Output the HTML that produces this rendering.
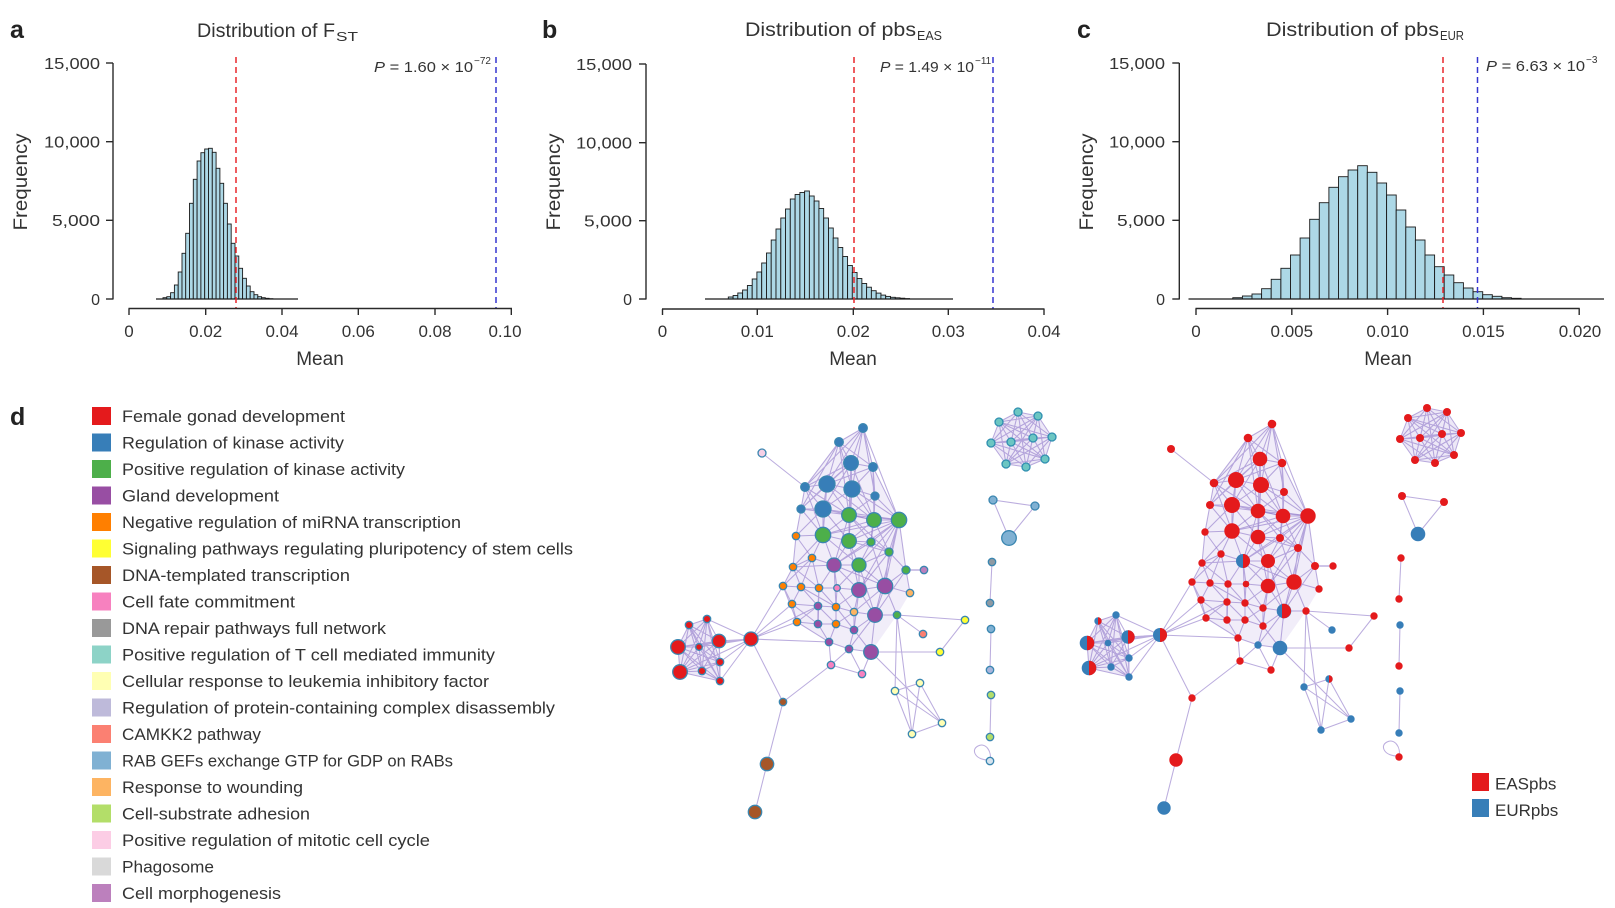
<!DOCTYPE html>
<html><head><meta charset="utf-8"><style>
html,body{margin:0;padding:0;background:#fff;}
svg{display:block;font-family:"Liberation Sans",Arial,sans-serif;}
</style></head><body>
<svg width="1615" height="908" viewBox="0 0 1615 908" xmlns="http://www.w3.org/2000/svg">
<rect width="1615" height="908" fill="#fff"/>

<g fill="#222">
<text x="10" y="38" font-size="25" font-weight="bold">a</text>
<text x="542" y="38" font-size="25" font-weight="bold">b</text>
<text x="1077" y="38" font-size="25" font-weight="bold">c</text>
<text x="10" y="425" font-size="25" font-weight="bold">d</text>
</g>
<g fill="#333">
<text x="197" y="37" font-size="19" textLength="138" lengthAdjust="spacingAndGlyphs">Distribution of F</text>
<text x="336" y="41" font-size="13" textLength="22" lengthAdjust="spacingAndGlyphs">ST</text>
<text x="745" y="36" font-size="19" textLength="171" lengthAdjust="spacingAndGlyphs">Distribution of pbs</text>
<text x="917" y="40" font-size="13" textLength="25" lengthAdjust="spacingAndGlyphs">EAS</text>
<text x="1266" y="36" font-size="19" textLength="173" lengthAdjust="spacingAndGlyphs">Distribution of pbs</text>
<text x="1440" y="40" font-size="13" textLength="24" lengthAdjust="spacingAndGlyphs">EUR</text>
</g>

<!-- histogram a bars -->
<g fill="#add8e6" stroke="#1a1a1a" stroke-width="0.9">
<rect x="163.0" y="297.7" width="3.79" height="1.3"/>
<rect x="166.8" y="296.7" width="3.79" height="2.3"/>
<rect x="170.6" y="292.7" width="3.79" height="6.3"/>
<rect x="174.4" y="285" width="3.79" height="14"/>
<rect x="178.2" y="272" width="3.79" height="27"/>
<rect x="182.0" y="253.3" width="3.79" height="45.7"/>
<rect x="185.7" y="233.3" width="3.79" height="65.7"/>
<rect x="189.5" y="203.3" width="3.79" height="95.7"/>
<rect x="193.3" y="179.3" width="3.79" height="119.7"/>
<rect x="197.1" y="161" width="3.79" height="138"/>
<rect x="200.9" y="152.7" width="3.79" height="146.3"/>
<rect x="204.7" y="149" width="3.79" height="150"/>
<rect x="208.5" y="148.3" width="3.79" height="150.7"/>
<rect x="212.3" y="152.3" width="3.79" height="146.7"/>
<rect x="216.1" y="168.3" width="3.79" height="130.7"/>
<rect x="219.9" y="183.3" width="3.79" height="115.7"/>
<rect x="223.6" y="203.3" width="3.79" height="95.7"/>
<rect x="227.4" y="224" width="3.79" height="75"/>
<rect x="231.2" y="243.3" width="3.79" height="55.7"/>
<rect x="235.0" y="256" width="3.79" height="43"/>
<rect x="238.8" y="268.3" width="3.79" height="30.7"/>
<rect x="242.6" y="278.3" width="3.79" height="20.7"/>
<rect x="246.4" y="286" width="3.79" height="13"/>
<rect x="250.2" y="291.7" width="3.79" height="7.3"/>
<rect x="254.0" y="294.7" width="3.79" height="4.3"/>
<rect x="257.8" y="296.7" width="3.79" height="2.3"/>
<rect x="261.5" y="297.7" width="3.79" height="1.3"/>
<rect x="265.3" y="298.3" width="3.79" height="0.7"/>
<rect x="269.1" y="298.7" width="3.79" height="0.3"/>
</g>
<line x1="156" y1="299" x2="298" y2="299" stroke="#1a1a1a" stroke-width="1.2"/>

<!-- histogram b bars -->
<g fill="#add8e6" stroke="#1a1a1a" stroke-width="0.9">
<rect x="728.3" y="297" width="4.77" height="2"/>
<rect x="733.1" y="295.5" width="4.77" height="3.5"/>
<rect x="737.8" y="293" width="4.77" height="6"/>
<rect x="742.6" y="290" width="4.77" height="9"/>
<rect x="747.4" y="285.5" width="4.77" height="13.5"/>
<rect x="752.2" y="279" width="4.77" height="20"/>
<rect x="756.9" y="272" width="4.77" height="27"/>
<rect x="761.7" y="263" width="4.77" height="36"/>
<rect x="766.5" y="253" width="4.77" height="46"/>
<rect x="771.2" y="240" width="4.77" height="59"/>
<rect x="776.0" y="229" width="4.77" height="70"/>
<rect x="780.8" y="218" width="4.77" height="81"/>
<rect x="785.5" y="209" width="4.77" height="90"/>
<rect x="790.3" y="199" width="4.77" height="100"/>
<rect x="795.1" y="194.5" width="4.77" height="104.5"/>
<rect x="799.9" y="192.5" width="4.77" height="106.5"/>
<rect x="804.6" y="191" width="4.77" height="108"/>
<rect x="809.4" y="196" width="4.77" height="103"/>
<rect x="814.2" y="201" width="4.77" height="98"/>
<rect x="818.9" y="208.5" width="4.77" height="90.5"/>
<rect x="823.7" y="218" width="4.77" height="81"/>
<rect x="828.5" y="228" width="4.77" height="71"/>
<rect x="833.2" y="238" width="4.77" height="61"/>
<rect x="838.0" y="247.5" width="4.77" height="51.5"/>
<rect x="842.8" y="256.5" width="4.77" height="42.5"/>
<rect x="847.6" y="265.5" width="4.77" height="33.5"/>
<rect x="852.3" y="272.5" width="4.77" height="26.5"/>
<rect x="857.1" y="278.5" width="4.77" height="20.5"/>
<rect x="861.9" y="283.5" width="4.77" height="15.5"/>
<rect x="866.6" y="287.2" width="4.77" height="11.8"/>
<rect x="871.4" y="290.7" width="4.77" height="8.3"/>
<rect x="876.2" y="293.1" width="4.77" height="5.9"/>
<rect x="880.9" y="295.1" width="4.77" height="3.9"/>
<rect x="885.7" y="296.4" width="4.77" height="2.6"/>
<rect x="890.5" y="297.3" width="4.77" height="1.7"/>
<rect x="895.3" y="297.8" width="4.77" height="1.2"/>
<rect x="900.0" y="298.2" width="4.77" height="0.8"/>
<rect x="904.8" y="298.6" width="4.77" height="0.4"/>
</g>
<line x1="705" y1="299" x2="953" y2="299" stroke="#1a1a1a" stroke-width="1.2"/>

<!-- histogram c bars -->
<g fill="#add8e6" stroke="#1a1a1a" stroke-width="0.9">
<rect x="1232.8" y="297.7" width="9.61" height="1.3"/>
<rect x="1242.4" y="296" width="9.61" height="3"/>
<rect x="1252.0" y="294" width="9.61" height="5"/>
<rect x="1261.6" y="288.7" width="9.61" height="10.3"/>
<rect x="1271.2" y="279.3" width="9.61" height="19.7"/>
<rect x="1280.9" y="268.3" width="9.61" height="30.7"/>
<rect x="1290.5" y="255" width="9.61" height="44"/>
<rect x="1300.1" y="238" width="9.61" height="61"/>
<rect x="1309.7" y="219.3" width="9.61" height="79.7"/>
<rect x="1319.3" y="202.7" width="9.61" height="96.3"/>
<rect x="1328.9" y="187.3" width="9.61" height="111.7"/>
<rect x="1338.5" y="176.7" width="9.61" height="122.3"/>
<rect x="1348.1" y="170" width="9.61" height="129"/>
<rect x="1357.7" y="165.7" width="9.61" height="133.3"/>
<rect x="1367.3" y="172.3" width="9.61" height="126.7"/>
<rect x="1377.0" y="183" width="9.61" height="116"/>
<rect x="1386.6" y="195" width="9.61" height="104"/>
<rect x="1396.2" y="210" width="9.61" height="89"/>
<rect x="1405.8" y="227" width="9.61" height="72"/>
<rect x="1415.4" y="240" width="9.61" height="59"/>
<rect x="1425.0" y="255" width="9.61" height="44"/>
<rect x="1434.6" y="266.7" width="9.61" height="32.3"/>
<rect x="1444.2" y="275" width="9.61" height="24"/>
<rect x="1453.8" y="282.7" width="9.61" height="16.3"/>
<rect x="1463.4" y="288" width="9.61" height="11"/>
<rect x="1473.1" y="291.7" width="9.61" height="7.3"/>
<rect x="1482.7" y="294.7" width="9.61" height="4.3"/>
<rect x="1492.3" y="296.3" width="9.61" height="2.7"/>
<rect x="1501.9" y="297.7" width="9.61" height="1.3"/>
<rect x="1511.5" y="298.3" width="9.61" height="0.7"/>
</g>
<line x1="1188.5" y1="299" x2="1604" y2="299" stroke="#1a1a1a" stroke-width="1.2"/>

<!-- dashed lines -->
<g stroke-width="1.5" stroke-dasharray="6,4" fill="none">
<line x1="236" y1="57" x2="236" y2="309" stroke="#e8262b"/>
<line x1="496" y1="57" x2="496" y2="309" stroke="#3535d0"/>
<line x1="854" y1="57" x2="854" y2="309" stroke="#e8262b"/>
<line x1="993" y1="57" x2="993" y2="309" stroke="#3535d0"/>
<line x1="1443" y1="57" x2="1443" y2="309" stroke="#e8262b"/>
<line x1="1477.5" y1="57" x2="1477.5" y2="309" stroke="#3535d0"/>
</g>

<!-- axes -->
<g stroke="#2a2a2a" stroke-width="1.4" fill="none">
<line x1="113" y1="63" x2="113" y2="299.5"/>
<line x1="106" y1="63" x2="113" y2="63"/><line x1="106" y1="141.7" x2="113" y2="141.7"/><line x1="106" y1="220.3" x2="113" y2="220.3"/><line x1="106" y1="299" x2="113" y2="299"/>
<line x1="128.5" y1="308.5" x2="512" y2="308.5"/>
<line x1="129" y1="308.5" x2="129" y2="315"/><line x1="205.7" y1="308.5" x2="205.7" y2="315"/><line x1="282" y1="308.5" x2="282" y2="315"/><line x1="358.3" y1="308.5" x2="358.3" y2="315"/><line x1="435" y1="308.5" x2="435" y2="315"/><line x1="511.3" y1="308.5" x2="511.3" y2="315"/>
<line x1="646" y1="64" x2="646" y2="299.5"/>
<line x1="639" y1="64" x2="646" y2="64"/><line x1="639" y1="142.7" x2="646" y2="142.7"/><line x1="639" y1="220.7" x2="646" y2="220.7"/><line x1="639" y1="299" x2="646" y2="299"/>
<line x1="662" y1="309" x2="1044.5" y2="309"/>
<line x1="662.5" y1="309" x2="662.5" y2="315"/><line x1="757.3" y1="309" x2="757.3" y2="315"/><line x1="853.3" y1="309" x2="853.3" y2="315"/><line x1="948.3" y1="309" x2="948.3" y2="315"/><line x1="1044" y1="309" x2="1044" y2="315"/>
<line x1="1179.3" y1="63" x2="1179.3" y2="299.5"/>
<line x1="1172.3" y1="63" x2="1179.3" y2="63"/><line x1="1172.3" y1="141.7" x2="1179.3" y2="141.7"/><line x1="1172.3" y1="220.3" x2="1179.3" y2="220.3"/><line x1="1172.3" y1="299" x2="1179.3" y2="299"/>
<line x1="1195.5" y1="308.5" x2="1579.7" y2="308.5"/>
<line x1="1196" y1="308.5" x2="1196" y2="315"/><line x1="1291.8" y1="308.5" x2="1291.8" y2="315"/><line x1="1387.6" y1="308.5" x2="1387.6" y2="315"/><line x1="1483.4" y1="308.5" x2="1483.4" y2="315"/><line x1="1579.2" y1="308.5" x2="1579.2" y2="315"/>
</g>

<!-- tick labels -->
<g fill="#333" font-size="16" text-anchor="end">
<text x="100" y="69" textLength="56" lengthAdjust="spacingAndGlyphs">15,000</text>
<text x="100" y="147.5" textLength="56" lengthAdjust="spacingAndGlyphs">10,000</text>
<text x="100" y="226" textLength="48" lengthAdjust="spacingAndGlyphs">5,000</text>
<text x="100" y="305">0</text>
<text x="632" y="70" textLength="56" lengthAdjust="spacingAndGlyphs">15,000</text>
<text x="632" y="148.5" textLength="56" lengthAdjust="spacingAndGlyphs">10,000</text>
<text x="632" y="226.5" textLength="48" lengthAdjust="spacingAndGlyphs">5,000</text>
<text x="632" y="305">0</text>
<text x="1165" y="69" textLength="56" lengthAdjust="spacingAndGlyphs">15,000</text>
<text x="1165" y="147.5" textLength="56" lengthAdjust="spacingAndGlyphs">10,000</text>
<text x="1165" y="226" textLength="48" lengthAdjust="spacingAndGlyphs">5,000</text>
<text x="1165" y="305">0</text>
</g>
<g fill="#333" font-size="17" text-anchor="middle">
<text x="129" y="337">0</text>
<text x="205.7" y="337">0.02</text>
<text x="282" y="337">0.04</text>
<text x="358.3" y="337">0.06</text>
<text x="435" y="337">0.08</text>
<text x="505" y="337">0.10</text>
<text x="662.5" y="337">0</text>
<text x="757.3" y="337">0.01</text>
<text x="853.3" y="337">0.02</text>
<text x="948.3" y="337">0.03</text>
<text x="1044" y="337">0.04</text>
<text x="1196" y="337">0</text>
<text x="1291.8" y="337">0.005</text>
<text x="1387.6" y="337">0.010</text>
<text x="1483.4" y="337">0.015</text>
<text x="1580" y="337">0.020</text>
<text x="320" y="365" font-size="19">Mean</text>
<text x="853" y="365" font-size="19">Mean</text>
<text x="1388" y="365" font-size="19">Mean</text>
<text transform="translate(27,182) rotate(-90)" font-size="19" textLength="97" lengthAdjust="spacingAndGlyphs">Frequency</text>
<text transform="translate(560,182) rotate(-90)" font-size="19" textLength="97" lengthAdjust="spacingAndGlyphs">Frequency</text>
<text transform="translate(1093,182) rotate(-90)" font-size="19" textLength="97" lengthAdjust="spacingAndGlyphs">Frequency</text>
</g>

<!-- P values -->
<g fill="#333" font-size="15">
<text x="374" y="72" textLength="99" lengthAdjust="spacingAndGlyphs"><tspan font-style="italic">P</tspan> = 1.60 × 10</text>
<text x="474" y="64" font-size="10">−72</text>
<text x="880" y="72" textLength="94" lengthAdjust="spacingAndGlyphs"><tspan font-style="italic">P</tspan> = 1.49 × 10</text>
<text x="975" y="64" font-size="10">−11</text>
<text x="1486" y="71" textLength="99" lengthAdjust="spacingAndGlyphs"><tspan font-style="italic">P</tspan> = 6.63 × 10</text>
<text x="1586" y="63" font-size="10">−3</text>
</g>

<!-- ================= LEGEND D ================= -->
<g>
<rect x="92" y="407" width="19" height="18" fill="#e41a1c"/>
<rect x="92" y="433.5" width="19" height="18" fill="#377eb8"/>
<rect x="92" y="460" width="19" height="18" fill="#4daf4a"/>
<rect x="92" y="486.5" width="19" height="18" fill="#984ea3"/>
<rect x="92" y="513" width="19" height="18" fill="#ff7f00"/>
<rect x="92" y="539.5" width="19" height="18" fill="#ffff33"/>
<rect x="92" y="566" width="19" height="18" fill="#a65628"/>
<rect x="92" y="592.5" width="19" height="18" fill="#f781bf"/>
<rect x="92" y="619" width="19" height="18" fill="#999999"/>
<rect x="92" y="645.5" width="19" height="18" fill="#8dd3c7"/>
<rect x="92" y="672" width="19" height="18" fill="#ffffb3"/>
<rect x="92" y="698.5" width="19" height="18" fill="#bebada"/>
<rect x="92" y="725" width="19" height="18" fill="#fb8072"/>
<rect x="92" y="751.5" width="19" height="18" fill="#80b1d3"/>
<rect x="92" y="778" width="19" height="18" fill="#fdb462"/>
<rect x="92" y="804.5" width="19" height="18" fill="#b3de69"/>
<rect x="92" y="831" width="19" height="18" fill="#fccde5"/>
<rect x="92" y="857.5" width="19" height="18" fill="#d9d9d9"/>
<rect x="92" y="884" width="19" height="18" fill="#bc80bd"/>
</g>
<g fill="#333" font-size="17">
<text x="122" y="422" textLength="223" lengthAdjust="spacingAndGlyphs">Female gonad development</text>
<text x="122" y="448.5" textLength="222" lengthAdjust="spacingAndGlyphs">Regulation of kinase activity</text>
<text x="122" y="475" textLength="283" lengthAdjust="spacingAndGlyphs">Positive regulation of kinase activity</text>
<text x="122" y="501.5" textLength="157" lengthAdjust="spacingAndGlyphs">Gland development</text>
<text x="122" y="528" textLength="339" lengthAdjust="spacingAndGlyphs">Negative regulation of miRNA transcription</text>
<text x="122" y="554.5" textLength="451" lengthAdjust="spacingAndGlyphs">Signaling pathways regulating pluripotency of stem cells</text>
<text x="122" y="581" textLength="228" lengthAdjust="spacingAndGlyphs">DNA-templated transcription</text>
<text x="122" y="607.5" textLength="173" lengthAdjust="spacingAndGlyphs">Cell fate commitment</text>
<text x="122" y="634" textLength="264" lengthAdjust="spacingAndGlyphs">DNA repair pathways full network</text>
<text x="122" y="660.5" textLength="373" lengthAdjust="spacingAndGlyphs">Positive regulation of T cell mediated immunity</text>
<text x="122" y="687" textLength="367" lengthAdjust="spacingAndGlyphs">Cellular response to leukemia inhibitory factor</text>
<text x="122" y="713.5" textLength="433" lengthAdjust="spacingAndGlyphs">Regulation of protein-containing complex disassembly</text>
<text x="122" y="740" textLength="139" lengthAdjust="spacingAndGlyphs">CAMKK2 pathway</text>
<text x="122" y="766.5" textLength="331" lengthAdjust="spacingAndGlyphs">RAB GEFs exchange GTP for GDP on RABs</text>
<text x="122" y="793" textLength="181" lengthAdjust="spacingAndGlyphs">Response to wounding</text>
<text x="122" y="819.5" textLength="188" lengthAdjust="spacingAndGlyphs">Cell-substrate adhesion</text>
<text x="122" y="846" textLength="308" lengthAdjust="spacingAndGlyphs">Positive regulation of mitotic cell cycle</text>
<text x="122" y="872.5" textLength="92" lengthAdjust="spacingAndGlyphs">Phagosome</text>
<text x="122" y="899" textLength="159" lengthAdjust="spacingAndGlyphs">Cell morphogenesis</text>
</g>

<!-- ================= NETWORK EDGES (shared) ================= -->
<defs>
<g id="edges">
<polygon points="839,442 863,428 873,467 899,520 906,570 910,593 897,615 871,652 849,649 829,642 797,622 792,604 783,586 793,567 796,536 801,509 805,487" fill="#d2c5ec" fill-opacity="0.3"/>
<polygon points="689,625 707,619 720,662 720,681 680,672 678,647" fill="#d2c5ec" fill-opacity="0.4"/>
<polygon points="1018,412 1038,416 1052,437 1045,459 1026,467 1006,464 991,443 999,422" fill="#d2c5ec" fill-opacity="0.4"/>
<g stroke="#8a72c6" stroke-width="1.05" stroke-opacity="0.58" fill="none">
<path d="M863 428L839 442M863 428L851 463M863 428L873 467M863 428L852 489M863 428L827 484M863 428L899 520M863 428L875 496M863 428L805 487M839 442L851 463M839 442L827 484M839 442L805 487M839 442L852 489M839 442L873 467M839 442L849 515M839 442L801 509M851 463L873 467M851 463L827 484M851 463L852 489M851 463L805 487M851 463L823 509M851 463L849 515M851 463L874 520M851 463L801 509M873 467L852 489M873 467L875 496M873 467L874 520M873 467L899 520M873 467L827 484M827 484L852 489M827 484L805 487M827 484L801 509M827 484L823 509M827 484L849 515M827 484L823 535M827 484L874 520M852 489L875 496M852 489L823 509M852 489L849 515M852 489L874 520M852 489L849 541M852 489L899 520M805 487L801 509M805 487L823 509M805 487L823 535M805 487L849 515M875 496L874 520M875 496L899 520M875 496L849 515M875 496L871 542M801 509L823 509M801 509L823 535M801 509L796 536M801 509L849 515M823 509L849 515M823 509L823 535M823 509L849 541M823 509L796 536M823 509L874 520M823 509L899 520"/>
<path d="M849 515L874 520M849 515L899 520M849 515L823 535M849 515L849 541M849 515L871 542M849 515L834 565M849 515L889 552M874 520L899 520M874 520L849 541M874 520L871 542M874 520L889 552M874 520L823 535M899 520L823 535M899 520L849 541M899 520L871 542M899 520L889 552M899 520L859 565M899 520L906 570M899 520L834 565M899 520L885 586M899 520L859 590M899 520L875 615M823 535L849 541M823 535L834 565M823 535L812 558M823 535L859 565M823 535L796 536M823 535L793 567M849 541L871 542M849 541L859 565M849 541L834 565M849 541L859 590M849 541L889 552M871 542L889 552M871 542L859 565M871 542L885 586M871 542L834 565M889 552L906 570M889 552L885 586M889 552L859 565M889 552L859 590"/>
<path d="M796 536L812 558M796 536L793 567M812 558L793 567M812 558L834 565M812 558L801 587M812 558L819 588M812 558L783 586M793 567L783 586M793 567L801 587M793 567L834 565M793 567L819 588M834 565L859 565M834 565L859 590M834 565L819 588M834 565L837 588M834 565L885 586M834 565L836 607M859 565L859 590M859 565L885 586M859 565L875 615M859 565L837 588M906 570L924 570M906 570L885 586M906 570L910 593M906 570L875 615M783 586L801 587M783 586L792 604M783 586L797 622M783 586L819 588M801 587L819 588M801 587L792 604M801 587L818 606M801 587L836 607M819 588L837 588M819 588L818 606M819 588L836 607M819 588L818 624M837 588L859 590M837 588L836 607M837 588L854 612M859 590L885 586M859 590L875 615M859 590L854 612M859 590L836 607M859 590L854 630M885 586L875 615M885 586L910 593M885 586L897 615M885 586L854 612"/>
<path d="M792 604L818 606M792 604L797 622M792 604L818 624M818 606L836 607M818 606L818 624M818 606L836 624M818 606L797 622M836 607L854 612M836 607L836 624M836 607L854 630M854 612L875 615M854 612L854 630M854 612L836 624M875 615L897 615M875 615L854 630M875 615L871 652M875 615L849 649M797 622L818 624M818 624L836 624M836 624L854 630M818 624L829 642M836 624L829 642M854 630L849 649M829 642L849 649M849 649L871 652M854 630L871 652M797 622L829 642M871 652L940 652M897 615L965 620M897 615L923 634M965 620L940 652M831 665L829 642M831 665L862 674M862 674L849 649M862 674L871 652M831 665L849 649M897 615L895 691M897 615L912 734M871 652L942 723M895 691L920 683M895 691L942 723M920 683L942 723M920 683L912 734M942 723L912 734M895 691L912 734M762 453L805 487M783 702L831 665M783 702L767 764M767 764L755 812M751 639L783 586M751 639L792 604M751 639L797 622M751 639L829 642M751 639L783 702M751 639L818 606M924 570L906 570"/>
<path d="M689 625L707 619M689 625L719 641M689 625L678 647M689 625L699 647M689 625L680 672M689 625L702 671M689 625L720 662M689 625L720 681M707 619L719 641M707 619L678 647M707 619L699 647M707 619L680 672M707 619L702 671M707 619L720 662M707 619L720 681M719 641L678 647M719 641L699 647M719 641L680 672M719 641L702 671M719 641L720 662M719 641L720 681M678 647L699 647M678 647L680 672M678 647L702 671M678 647L720 662M678 647L720 681M699 647L680 672M699 647L702 671M699 647L720 662M699 647L720 681M680 672L702 671M680 672L720 662M680 672L720 681M702 671L720 662M702 671L720 681M720 662L720 681M751 639L707 619M751 639L719 641M751 639L678 647M751 639L699 647M751 639L720 662M751 639L720 681M751 639L680 672"/>
<path d="M1018 412L1038 416M1018 412L999 422M1018 412L1052 437M1018 412L991 443M1018 412L1011 442M1018 412L1033 438M1018 412L1006 464M1018 412L1026 467M1018 412L1045 459M1038 416L999 422M1038 416L1052 437M1038 416L991 443M1038 416L1011 442M1038 416L1033 438M1038 416L1006 464M1038 416L1026 467M1038 416L1045 459M999 422L1052 437M999 422L991 443M999 422L1011 442M999 422L1033 438M999 422L1006 464M999 422L1026 467M999 422L1045 459M1052 437L991 443M1052 437L1011 442M1052 437L1033 438M1052 437L1006 464M1052 437L1026 467M1052 437L1045 459M991 443L1011 442M991 443L1033 438M991 443L1006 464M991 443L1026 467M991 443L1045 459M1011 442L1033 438M1011 442L1006 464M1011 442L1026 467M1011 442L1045 459M1033 438L1006 464M1033 438L1026 467M1033 438L1045 459M1006 464L1026 467M1006 464L1045 459M1026 467L1045 459"/>
<path d="M993 500L1035 506M993 500L1009 538M1035 506L1009 538M992 562L990 603M991 629L990 670M991 695L990 737M990 760C976 761 970 750 978 746C986 742 992 752 990 760"/>
</g>
</g>
</defs>

<use href="#edges"/>
<use href="#edges" transform="translate(409,-4)"/>

<!-- ================= LEFT NETWORK NODES ================= -->
<g stroke="#3a86b0" stroke-width="1.3">
<circle cx="863" cy="428" r="4.3" fill="#377eb8"/>
<circle cx="839" cy="442" r="4.3" fill="#377eb8"/>
<circle cx="762" cy="453" r="4" fill="#f5cfe6"/>
<circle cx="851" cy="463" r="7.3" fill="#377eb8"/>
<circle cx="873" cy="467" r="4.3" fill="#377eb8"/>
<circle cx="827" cy="484" r="8" fill="#377eb8"/>
<circle cx="852" cy="489" r="8" fill="#377eb8"/>
<circle cx="805" cy="487" r="4.3" fill="#377eb8"/>
<circle cx="875" cy="496" r="4" fill="#377eb8"/>
<circle cx="801" cy="509" r="4" fill="#377eb8"/>
<circle cx="823" cy="509" r="8" fill="#377eb8"/>
<circle cx="849" cy="515" r="7.3" fill="#4daf4a"/>
<circle cx="874" cy="520" r="7.3" fill="#4daf4a"/>
<circle cx="899" cy="520" r="7.7" fill="#4daf4a"/>
<circle cx="796" cy="536" r="3.7" fill="#ff7f00"/>
<circle cx="823" cy="535" r="7.7" fill="#4daf4a"/>
<circle cx="849" cy="541" r="7.3" fill="#4daf4a"/>
<circle cx="871" cy="542" r="4" fill="#4daf4a"/>
<circle cx="889" cy="552" r="4" fill="#4daf4a"/>
<circle cx="812" cy="558" r="3.7" fill="#ff7f00"/>
<circle cx="793" cy="567" r="3.7" fill="#ff7f00"/>
<circle cx="834" cy="565" r="7" fill="#984ea3"/>
<circle cx="859" cy="565" r="7" fill="#4daf4a"/>
<circle cx="906" cy="570" r="4" fill="#4daf4a"/>
<circle cx="924" cy="570" r="3.7" fill="#bc80bd"/>
<circle cx="783" cy="586" r="3.7" fill="#ff7f00"/>
<circle cx="801" cy="587" r="3.7" fill="#ff7f00"/>
<circle cx="819" cy="588" r="3.7" fill="#ff7f00"/>
<circle cx="837" cy="588" r="3.3" fill="#f781bf"/>
<circle cx="859" cy="590" r="7.3" fill="#984ea3"/>
<circle cx="885" cy="586" r="7.7" fill="#984ea3"/>
<circle cx="910" cy="593" r="3.7" fill="#fdb462"/>
<circle cx="792" cy="604" r="3.7" fill="#ff7f00"/>
<circle cx="818" cy="606" r="3.7" fill="#984ea3"/>
<circle cx="836" cy="607" r="3.7" fill="#ff7f00"/>
<circle cx="854" cy="612" r="3.7" fill="#fdb462"/>
<circle cx="875" cy="615" r="7.3" fill="#984ea3"/>
<circle cx="897" cy="615" r="3.7" fill="#4daf4a"/>
<circle cx="965" cy="620" r="3.7" fill="#ffff33"/>
<circle cx="797" cy="622" r="3.7" fill="#ff7f00"/>
<circle cx="818" cy="624" r="3.7" fill="#984ea3"/>
<circle cx="836" cy="624" r="3.7" fill="#ff7f00"/>
<circle cx="854" cy="630" r="3.7" fill="#984ea3"/>
<circle cx="923" cy="634" r="3.7" fill="#fb8072"/>
<circle cx="829" cy="642" r="3.7" fill="#984ea3"/>
<circle cx="849" cy="649" r="3.7" fill="#984ea3"/>
<circle cx="871" cy="652" r="7.3" fill="#984ea3"/>
<circle cx="940" cy="652" r="3.7" fill="#ffff33"/>
<circle cx="831" cy="665" r="3.7" fill="#f781bf"/>
<circle cx="862" cy="674" r="3.7" fill="#f781bf"/>
<circle cx="895" cy="691" r="3.7" fill="#ffffb3"/>
<circle cx="920" cy="683" r="3.7" fill="#ffffb3"/>
<circle cx="942" cy="723" r="3.7" fill="#ffffb3"/>
<circle cx="912" cy="734" r="3.7" fill="#ffffb3"/>
<circle cx="783" cy="702" r="3.7" fill="#a65628"/>
<circle cx="767" cy="764" r="6.7" fill="#a65628"/>
<circle cx="755" cy="812" r="6.7" fill="#a65628"/>
<circle cx="689" cy="625" r="3.7" fill="#e41a1c"/>
<circle cx="707" cy="619" r="3.7" fill="#e41a1c"/>
<circle cx="719" cy="641" r="6.7" fill="#e41a1c"/>
<circle cx="678" cy="647" r="7.3" fill="#e41a1c"/>
<circle cx="699" cy="647" r="3.3" fill="#e41a1c"/>
<circle cx="680" cy="672" r="7.3" fill="#e41a1c"/>
<circle cx="702" cy="671" r="3.7" fill="#e41a1c"/>
<circle cx="720" cy="662" r="3.7" fill="#e41a1c"/>
<circle cx="720" cy="681" r="3.7" fill="#e41a1c"/>
<circle cx="751" cy="639" r="7" fill="#e41a1c"/>
<g fill="#6cc6c2" stroke="#2f8fb0">
<circle cx="1018" cy="412" r="4"/><circle cx="1038" cy="416" r="4"/><circle cx="999" cy="422" r="4"/><circle cx="1052" cy="437" r="4"/><circle cx="991" cy="443" r="4"/><circle cx="1011" cy="442" r="4"/><circle cx="1033" cy="438" r="4"/><circle cx="1006" cy="464" r="4"/><circle cx="1026" cy="467" r="4"/><circle cx="1045" cy="459" r="4"/>
</g>
<circle cx="993" cy="500" r="4" fill="#80b1d3"/>
<circle cx="1035" cy="506" r="4" fill="#80b1d3"/>
<circle cx="1009" cy="538" r="7.3" fill="#80b1d3"/>
<circle cx="992" cy="562" r="3.7" fill="#8f9aa3"/>
<circle cx="990" cy="603" r="3.7" fill="#8f9aa3"/>
<circle cx="991" cy="629" r="3.7" fill="#80b1d3"/>
<circle cx="990" cy="670" r="3.7" fill="#a9b6dc"/>
<circle cx="991" cy="695" r="3.7" fill="#b3de69"/>
<circle cx="990" cy="737" r="3.7" fill="#b3de69"/>
<circle cx="990" cy="761" r="3.7" fill="#d6e3ee"/>
</g>

<!-- ================= RIGHT NETWORK NODES ================= -->
<g transform="translate(409,-4)">
<g fill="#e41a1c">
<circle cx="863" cy="428" r="4.3"/>
<circle cx="839" cy="442" r="4.3"/>
<circle cx="762" cy="453" r="4"/>
<circle cx="851" cy="463" r="7.3"/>
<circle cx="873" cy="467" r="4.3"/>
<circle cx="827" cy="484" r="8"/>
<circle cx="852" cy="489" r="8"/>
<circle cx="805" cy="487" r="4.3"/>
<circle cx="875" cy="496" r="4"/>
<circle cx="801" cy="509" r="4"/>
<circle cx="823" cy="509" r="8"/>
<circle cx="849" cy="515" r="7.3"/>
<circle cx="874" cy="520" r="7.3"/>
<circle cx="899" cy="520" r="7.7"/>
<circle cx="796" cy="536" r="3.7"/>
<circle cx="823" cy="535" r="7.7"/>
<circle cx="849" cy="541" r="7.3"/>
<circle cx="871" cy="542" r="4"/>
<circle cx="889" cy="552" r="4"/>
<circle cx="812" cy="558" r="3.7"/>
<circle cx="793" cy="567" r="3.7"/>
<circle cx="859" cy="565" r="7"/>
<circle cx="906" cy="570" r="4"/>
<circle cx="924" cy="570" r="3.7"/>
<circle cx="783" cy="586" r="3.7"/>
<circle cx="801" cy="587" r="3.7"/>
<circle cx="819" cy="588" r="3.7"/>
<circle cx="837" cy="588" r="3.3"/>
<circle cx="859" cy="590" r="7.3"/>
<circle cx="885" cy="586" r="7.7"/>
<circle cx="910" cy="593" r="3.7"/>
<circle cx="792" cy="604" r="3.7"/>
<circle cx="818" cy="606" r="3.7"/>
<circle cx="836" cy="607" r="3.7"/>
<circle cx="854" cy="612" r="3.7"/>
<circle cx="897" cy="615" r="3.7"/>
<circle cx="965" cy="620" r="3.7"/>
<circle cx="797" cy="622" r="3.7"/>
<circle cx="818" cy="624" r="3.7"/>
<circle cx="836" cy="624" r="3.7"/>
<circle cx="854" cy="630" r="3.7"/>
<circle cx="829" cy="642" r="3.7"/>
<circle cx="940" cy="652" r="3.7"/>
<circle cx="831" cy="665" r="3.7"/>
<circle cx="862" cy="674" r="3.7"/>
<circle cx="783" cy="702" r="3.7"/>
<circle cx="767" cy="764" r="6.7"/>
<circle cx="1018" cy="412" r="4"/><circle cx="1038" cy="416" r="4"/><circle cx="999" cy="422" r="4"/><circle cx="1052" cy="437" r="4"/><circle cx="991" cy="443" r="4"/><circle cx="1011" cy="442" r="4"/><circle cx="1033" cy="438" r="4"/><circle cx="1006" cy="464" r="4"/><circle cx="1026" cy="467" r="4"/><circle cx="1045" cy="459" r="4"/>
<circle cx="993" cy="500" r="4"/>
<circle cx="1035" cy="506" r="4"/>
<circle cx="992" cy="562" r="3.7"/>
<circle cx="990" cy="603" r="3.7"/>
<circle cx="990" cy="670" r="3.7"/>
<circle cx="990" cy="761" r="3.7"/>
</g>
<g fill="#377eb8">
<circle cx="923" cy="634" r="3.7"/>
<circle cx="871" cy="652" r="7.3"/>
<circle cx="849" cy="649" r="3.7"/>
<circle cx="895" cy="691" r="3.7"/>
<circle cx="942" cy="723" r="3.7"/>
<circle cx="912" cy="734" r="3.7"/>
<circle cx="755" cy="812" r="6.7"/>
<circle cx="1009" cy="538" r="7.3"/>
<circle cx="991" cy="629" r="3.7"/>
<circle cx="991" cy="695" r="3.7"/>
<circle cx="990" cy="737" r="3.7"/>
<circle cx="707" cy="619" r="3.7"/>
<circle cx="699" cy="647" r="3.3"/>
<circle cx="702" cy="671" r="3.7"/>
<circle cx="720" cy="662" r="3.7"/>
<circle cx="720" cy="681" r="3.7"/>
<circle cx="834" cy="565" r="7"/>
<circle cx="875" cy="615" r="7.3"/>
<circle cx="920" cy="683" r="3.7"/>
<circle cx="689" cy="625" r="3.7"/>
<circle cx="719" cy="641" r="6.7"/>
<circle cx="678" cy="647" r="7.3"/>
<circle cx="680" cy="672" r="7.3"/>
<circle cx="751" cy="639" r="7"/>
</g>
<g fill="#e41a1c">
<path d="M834 558A7 7 0 0 1 834 572Z"/>
<path d="M873 607.9A7.3 7.3 0 1 1 873 622.1Z"/>
<path d="M920 679.3A3.7 3.7 0 0 1 920 686.7Z"/>
<path d="M689 621.3A3.7 3.7 0 0 1 689 628.7Z"/>
<path d="M719 634.3A6.7 6.7 0 0 1 719 647.7Z"/>
<path d="M678 639.7A7.3 7.3 0 0 1 678 654.3Z"/>
<path d="M680 664.7A7.3 7.3 0 0 1 680 679.3Z"/>
<path d="M751 632A7 7 0 0 1 751 646Z"/>
</g>
</g>

<!-- EAS/EUR legend -->
<rect x="1472" y="773" width="17" height="18" fill="#e41a1c"/>
<rect x="1472" y="799" width="17" height="18" fill="#377eb8"/>
<g fill="#333" font-size="17">
<text x="1495" y="789.5">EASpbs</text>
<text x="1495" y="816">EURpbs</text>
</g>
</svg>
</body></html>
